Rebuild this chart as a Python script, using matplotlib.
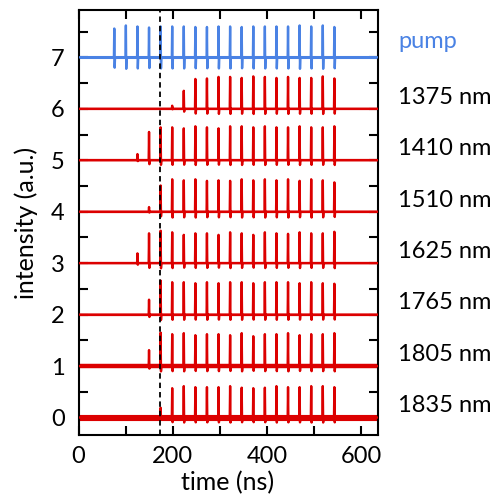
import matplotlib
matplotlib.use("Agg")
import matplotlib.pyplot as plt
import matplotlib.transforms as mtransforms
from matplotlib.ticker import MultipleLocator

plt.rcParams["font.family"] = ["Lato", "DejaVu Sans"]

# pulse arrival times of the pump train (ns)
pulse_times = [76.0, 100.6, 125.2, 149.8, 174.4, 199.0, 223.6, 248.2, 272.8, 297.4,
               322.0, 346.6, 371.2, 395.8, 420.4, 445.0, 469.6, 494.2, 518.8, 543.4]

# trace labels, top to bottom, and their vertical offsets
labels = ["pump", "1375 nm", "1410 nm", "1510 nm", "1625 nm", "1765 nm", "1805 nm", "1835 nm"]
offsets = [7, 6, 5, 4, 3, 2, 1, 0]

# peak heights per pulse (0 = no pulse)
pump_peaks = [0.56, 0.62, 0.60, 0.58, 0.60, 0.60, 0.60, 0.59, 0.59, 0.60,
              0.60, 0.59, 0.60, 0.60, 0.60, 0.60, 0.62, 0.60, 0.62, 0.59]
peaks_1375 = [0, 0, 0, 0, 0, 0.06, 0.35, 0.58, 0.59, 0.62, 0.62, 0.60, 0.63, 0.62,
              0.60, 0.62, 0.60, 0.60, 0.63, 0.59]
peaks_1410 = [0, 0, 0.12, 0.55, 0.64, 0.64, 0.62, 0.66, 0.64, 0.62, 0.66, 0.66,
              0.64, 0.66, 0.64, 0.64, 0.66, 0.64, 0.64, 0.66]
peaks_1510 = [0, 0, 0, 0.09, 0.51, 0.63, 0.61, 0.63, 0.60, 0.61, 0.60, 0.63,
              0.61, 0.63, 0.61, 0.63, 0.60, 0.63, 0.61, 0.57]
peaks_1625 = [0, 0, 0.19, 0.58, 0.63, 0.60, 0.55, 0.58, 0.58, 0.55, 0.60, 0.58,
              0.55, 0.60, 0.58, 0.57, 0.60, 0.58, 0.58, 0.61]
peaks_1765 = [0, 0, 0, 0.29, 0.66, 0.63, 0.63, 0.61, 0.63, 0.61, 0.63, 0.63,
              0.61, 0.63, 0.63, 0.63, 0.61, 0.63, 0.61, 0.60]
peaks_1805 = [0, 0, 0, 0.31, 0.65, 0.62, 0.64, 0.60, 0.62, 0.62, 0.60, 0.64,
              0.58, 0.62, 0.62, 0.64, 0.60, 0.62, 0.62, 0.64]
peaks_1835 = [0, 0, 0, 0, 0.19, 0.57, 0.61, 0.59, 0.59, 0.59, 0.61, 0.58,
              0.57, 0.58, 0.61, 0.59, 0.59, 0.61, 0.61, 0.59]
all_peaks = [pump_peaks, peaks_1375, peaks_1410, peaks_1510,
             peaks_1625, peaks_1765, peaks_1805, peaks_1835]

# undershoot after each pulse, as a fraction of the peak
undershoot = [0.36, 0.16, 0.14, 0.18, 0.16, 0.16, 0.16, 0.16]

marker_time = 174.0
t_end = 635.0

blue = "#4A82E4"
red = "#DC0000"
colors = [blue] + [red] * 7
base_widths = [2.2, 1.6, 1.6, 1.6, 1.6, 1.6, 3.2, 4.4]
fs = 17


def pulse_trace(times, peaks, dip):
    xs, ys = [0.0], [0.0]
    for t, h in zip(times, peaks):
        if h <= 0:
            continue
        xs += [t - 0.8, t, t + 0.8, t + 1.6]
        ys += [0.0, h, -dip * h, 0.0]
    xs.append(t_end)
    ys.append(0.0)
    return xs, ys


fig = plt.figure(figsize=(5, 5), dpi=100)
ax = fig.add_axes([0.157, 0.13, 0.598, 0.85])

for lab, off, pk, dp, col, bw in zip(labels, offsets, all_peaks, undershoot, colors, base_widths):
    ax.plot([0, t_end], [off, off], color=col, lw=bw, solid_capstyle="butt", zorder=2)
    xs, ys = pulse_trace(pulse_times, pk, dp)
    ax.plot(xs, [y + off for y in ys], color=col, lw=1.7, zorder=3)

ax.axvline(marker_time, color="black", lw=1.3, ls=(0, (3, 2.2)), zorder=4)

# names of the traces to the right of the frame
trans = mtransforms.blended_transform_factory(ax.transAxes, ax.transData)
for lab, off, col in zip(labels, offsets, colors):
    y = off + 0.18 if lab == "pump" else off + 0.1
    ax.text(1.07, y, lab, transform=trans, color=col if lab == "pump" else "black",
            fontsize=fs, ha="left", va="baseline")

ax.set_xlim(0, t_end)
ax.set_ylim(-0.34, 7.92)
ax.xaxis.set_major_locator(MultipleLocator(200))
ax.xaxis.set_minor_locator(MultipleLocator(100))
ax.yaxis.set_major_locator(MultipleLocator(1))
ax.yaxis.set_minor_locator(MultipleLocator(0.5))
ax.tick_params(which="both", direction="in", length=6.5, width=1.5,
               top=True, right=True, labelsize=fs)
ax.tick_params(axis="y", pad=10)
ax.tick_params(axis="x", pad=8)
for sp in ax.spines.values():
    sp.set_linewidth(1.5)

ax.set_xlabel("time (ns)", fontsize=18, labelpad=3)
ax.set_ylabel("intensity (a.u.)", fontsize=18, labelpad=9)

fig.savefig("out.png", dpi=100)
